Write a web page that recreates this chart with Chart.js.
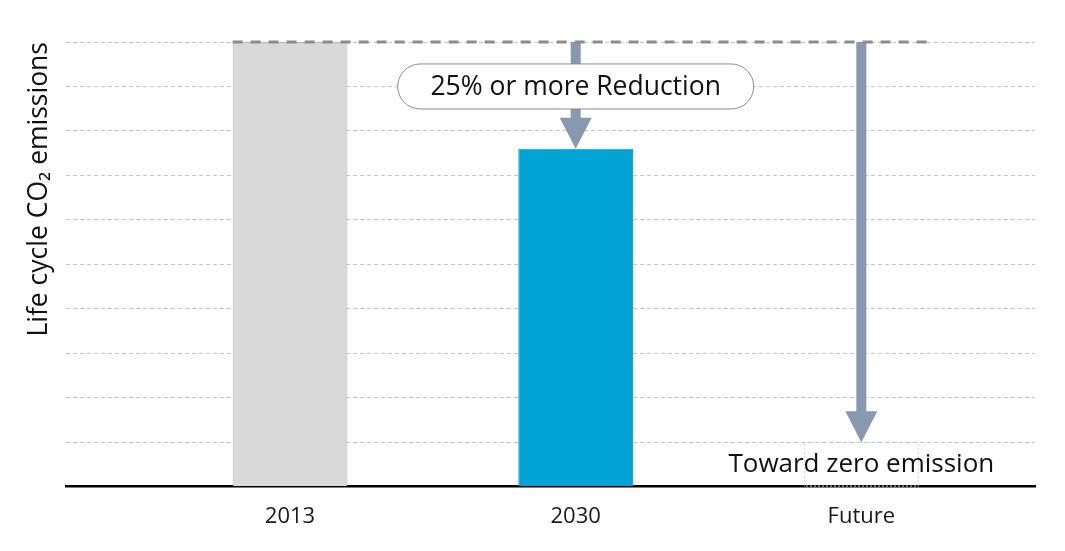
<!DOCTYPE html>
<html lang="en">
<head>
  <meta charset="UTF-8" />
  <title>Life cycle CO2 emissions</title>
  <script src="https://cdn.jsdelivr.net/npm/chart.js"></script>
  <style>
    html, body { margin: 0; padding: 0; background: #fff; }
    #wrap { width: 1065px; height: 551px; }
  </style>
</head>
<body>
  <div id="wrap"><canvas id="co2Chart"></canvas></div>
  <script>
    // values (2013 = 100)
    const categories = ['2013', '2030', 'Future'];
    const emissions = [100, 76, 10];
    const yTicks = [0, 10, 20, 30, 40, 50, 60, 70, 80, 90, 100];
    const reductionText = '25% or more Reduction';
    const futureText = 'Toward zero emission';
    const yTitle = 'Life cycle CO\u2082 emissions';

    const FONT = "'Open Sans', 'Noto Sans', sans-serif";
    const ARROW = '#8798b0';

    function drawArrow(ctx, x, yFrom, yTo) {
      const head = 31, shaft = 10, headW = 32;
      ctx.fillStyle = ARROW;
      ctx.fillRect(x - shaft / 2, yFrom, shaft, yTo - yFrom - head + 1);
      ctx.beginPath();
      ctx.moveTo(x - headW / 2, yTo - head);
      ctx.lineTo(x + headW / 2, yTo - head);
      ctx.lineTo(x, yTo);
      ctx.closePath();
      ctx.fill();
    }

    const annotations = {
      id: 'annotations',
      afterDatasetsDraw(chart) {
        const ctx = chart.ctx;
        const y = chart.scales.y;
        const bars = chart.getDatasetMeta(0).data;
        const base = bars[0], mid = bars[1], fut = bars[2];
        const topY = y.getPixelForValue(emissions[0]);

        ctx.save();
        // dotted outline for the future bar
        ctx.strokeStyle = '#cfcfcf';
        ctx.lineWidth = 1;
        ctx.setLineDash([2, 2]);
        ctx.strokeRect(fut.x - fut.width / 2 + 0.5, fut.y, fut.width - 1, fut.base - fut.y);

        // arrows
        ctx.setLineDash([]);
        drawArrow(ctx, mid.x, topY, mid.y);
        drawArrow(ctx, fut.x, topY, fut.y);

        // reference line at the 2013 level
        ctx.strokeStyle = '#8c8c8c';
        ctx.lineWidth = 3;
        ctx.setLineDash([10, 8]);
        ctx.beginPath();
        ctx.moveTo(base.x - base.width / 2, topY);
        ctx.lineTo(fut.x + fut.width / 2 + 16, topY);
        ctx.stroke();
        ctx.setLineDash([]);

        // rounded label box
        const by = y.getPixelForValue(90);
        const bw = 356, bh = 45;
        ctx.beginPath();
        ctx.roundRect(mid.x - bw / 2, by - bh / 2, bw, bh, bh / 2);
        ctx.fillStyle = '#fff';
        ctx.fill();
        ctx.strokeStyle = '#8c8c8c';
        ctx.lineWidth = 1;
        ctx.stroke();

        ctx.fillStyle = '#111';
        ctx.font = '26.5px ' + FONT;
        ctx.textAlign = 'center';
        ctx.textBaseline = 'middle';
        ctx.fillText(reductionText, mid.x, by + 1);
        ctx.font = '26px ' + FONT;
        ctx.fillText(futureText, fut.x, y.getPixelForValue(5));
        ctx.restore();
      }
    };

    new Chart(document.getElementById('co2Chart'), {
      type: 'bar',
      data: {
        datasets: [{
          data: categories.map((c, i) => ({ x: i + 1, y: emissions[i] })),
          backgroundColor: ['#d9d9d9', '#00a3d3', 'rgba(0,0,0,0)'],
          borderColor: ['#b5b5b5', '#1e95c4', 'rgba(0,0,0,0)'],
          borderWidth: 1,
          barPercentage: 0.402,
          categoryPercentage: 1
        }]
      },
      options: {
        responsive: true,
        maintainAspectRatio: false,
        animation: false,
        layout: { padding: { left: 24, right: 30, top: 42, bottom: 4 } },
        plugins: { legend: { display: false }, tooltip: { enabled: false } },
        scales: {
          x: {
            type: 'linear',
            offset: false,
            min: 0.215,
            max: 3.608,
            afterBuildTicks: scale => { scale.ticks = categories.map((c, i) => ({ value: i + 1 })); },
            ticks: {
              callback: v => categories[v - 1],
              color: '#1a1a1a',
              font: { family: FONT, size: 22 },
              padding: 17,
              maxRotation: 0
            },
            grid: { display: false, drawTicks: false },
            border: { color: '#000', width: 2.5 }
          },
          y: {
            min: yTicks[0],
            max: yTicks[yTicks.length - 1],
            afterBuildTicks: scale => { scale.ticks = yTicks.map(v => ({ value: v })); },
            ticks: { display: false },
            grid: { color: '#c4c4c4', lineWidth: 1, drawTicks: false },
            border: { display: false, dash: [4, 3] },
            title: {
              display: true,
              text: yTitle,
              align: 'end',
              color: '#111',
              font: { family: FONT, size: 26.5 },
              padding: { top: 0, bottom: 10 }
            }
          }
        }
      },
      plugins: [annotations]
    });
  </script>
</body>
</html>
